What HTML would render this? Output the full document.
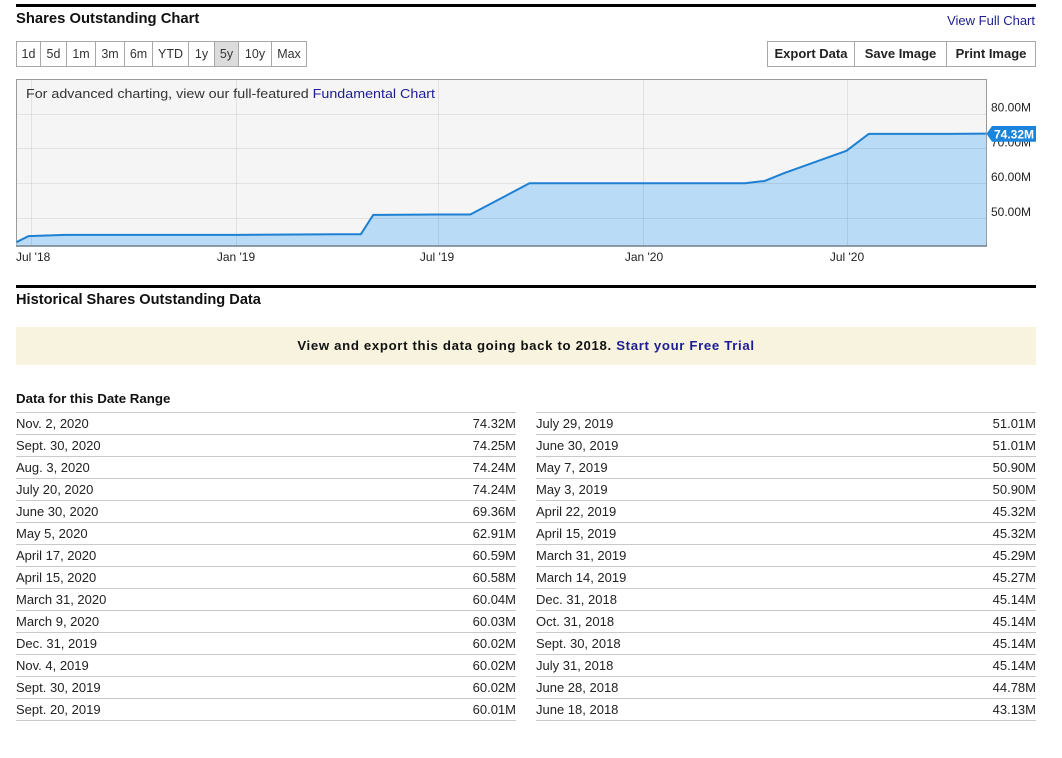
<!DOCTYPE html>
<html>
<head>
<meta charset="utf-8">
<style>
  html,body{margin:0;padding:0;background:#fff;}
  body{width:1062px;height:758px;position:relative;overflow:hidden;font-family:"Liberation Sans",Arial,sans-serif;color:#222;}
  .abs{position:absolute;}
  .rule{position:absolute;left:16px;width:1020px;height:3px;background:#000;}
  .h1{position:absolute;left:16px;font-weight:bold;font-size:14.8px;color:#111;white-space:nowrap;}
  .btns{position:absolute;top:41px;height:26px;display:flex;}
  .btns div{box-sizing:border-box;height:26px;line-height:24px;border:1px solid #a8a8a8;border-left:none;text-align:center;font-size:12.5px;color:#333;background:#fff;}
  .btns div:first-child{border-left:1px solid #a8a8a8;}
  .rb div{font-weight:bold;font-size:13px;color:#222;}
  .link{color:#1c1c94;}
  .row{position:absolute;height:22px;box-sizing:border-box;border-top:1px solid #c9c9c9;font-size:13px;line-height:21px;color:#222;white-space:nowrap;}
  .row span.v{position:absolute;right:0;top:0;}
</style>
</head>
<body>
<div class="rule" style="top:4px;"></div>
<div class="h1" style="top:11px;">Shares Outstanding Chart</div>
<div class="abs link" style="right:27px;top:13px;font-size:13px;">View Full Chart</div>

<div class="btns" style="left:16px;">
  <div style="width:25px;">1d</div>
  <div style="width:26px;">5d</div>
  <div style="width:29px;">1m</div>
  <div style="width:29px;">3m</div>
  <div style="width:28px;">6m</div>
  <div style="width:36px;">YTD</div>
  <div style="width:26px;">1y</div>
  <div style="width:24px;background:#dcdcdc;">5y</div>
  <div style="width:33px;">10y</div>
  <div style="width:35px;">Max</div>
</div>
<div class="btns rb" style="left:767px;">
  <div style="width:88px;">Export Data</div>
  <div style="width:92px;">Save Image</div>
  <div style="width:89px;">Print Image</div>
</div>

<svg class="abs" style="left:0;top:0;" width="1062" height="280" xmlns="http://www.w3.org/2000/svg">
  <rect x="16.5" y="79.5" width="970" height="166.5" fill="#f5f5f5" stroke="#9a9a9a" stroke-width="1"/>
  <polygon fill="#b9dbf5" points="16.5,241.8 17.2,241.8 28.4,236.1 65.2,234.9 235.9,234.9 317.4,234.4 336.4,234.3 353.1,234.2 360.9,234.2 373.2,214.9 377.7,214.9 437.9,214.5 470.3,214.5 529.4,183.3 540.6,183.2 579.7,183.2 643.3,183.2 720.3,183.2 744.8,183.2 761.6,181.3 763.8,181.3 783.9,173.2 846.4,150.8 868.7,133.9 884.3,133.9 949.1,133.9 986,133.6 986,246 16.5,246"/>
  <g stroke="rgba(0,0,0,0.075)" stroke-width="1">
    <line x1="17" y1="114.5" x2="986" y2="114.5"/>
    <line x1="17" y1="148.5" x2="986" y2="148.5"/>
    <line x1="17" y1="183.5" x2="986" y2="183.5"/>
    <line x1="17" y1="218.5" x2="986" y2="218.5"/>
    <line x1="31.5" y1="80" x2="31.5" y2="246"/>
    <line x1="236.5" y1="80" x2="236.5" y2="246"/>
    <line x1="438.5" y1="80" x2="438.5" y2="246"/>
    <line x1="643.5" y1="80" x2="643.5" y2="246"/>
    <line x1="847.5" y1="80" x2="847.5" y2="246"/>
  </g>
  <polyline fill="none" stroke="#1e80d2" stroke-width="2" stroke-linejoin="round" points="16.5,241.8 17.2,241.8 28.4,236.1 65.2,234.9 235.9,234.9 317.4,234.4 336.4,234.3 353.1,234.2 360.9,234.2 373.2,214.9 377.7,214.9 437.9,214.5 470.3,214.5 529.4,183.3 540.6,183.2 579.7,183.2 643.3,183.2 720.3,183.2 744.8,183.2 761.6,181.3 763.8,181.3 783.9,173.2 846.4,150.8 868.7,133.9 884.3,133.9 949.1,133.9 986,133.6"/>
  <line x1="16" y1="246" x2="987" y2="246" stroke="#6f7f8e" stroke-width="1.5"/>
  <text x="26" y="98" font-family="Liberation Sans, Arial, sans-serif" font-size="13" fill="#333" textLength="409" lengthAdjust="spacingAndGlyphs">For advanced charting, view our full-featured <tspan fill="#1c1c94">Fundamental Chart</tspan></text>
  <g font-family="Liberation Sans, Arial, sans-serif" font-size="12" fill="#222">
    <text x="991" y="111.5">80.00M</text>
    <text x="991" y="146.5">70.00M</text>
    <text x="991" y="181">60.00M</text>
    <text x="991" y="216">50.00M</text>
    <text x="16" y="261">Jul '18</text>
    <text x="236" y="261" text-anchor="middle">Jan '19</text>
    <text x="437" y="261" text-anchor="middle">Jul '19</text>
    <text x="644" y="261" text-anchor="middle">Jan '20</text>
    <text x="847" y="261" text-anchor="middle">Jul '20</text>
  </g>
  <polygon fill="#1a85dd" points="986.5,133.8 992,126 1036,126 1036,141.7 992,141.7"/>
  <text x="1014" y="138.5" text-anchor="middle" font-family="Liberation Sans, Arial, sans-serif" font-size="12" font-weight="bold" fill="#fff">74.32M</text>
</svg>

<div class="rule" style="top:285px;"></div>
<div class="h1" style="top:292px;font-size:14.6px;">Historical Shares Outstanding Data</div>

<div class="abs" style="left:16px;top:327px;width:1020px;height:38px;background:#f7f3de;text-align:center;line-height:38px;font-size:13.2px;letter-spacing:0.66px;font-weight:bold;color:#111;white-space:nowrap;">View and export this data going back to 2018. <span class="link">Start your Free Trial</span></div>

<div class="abs" style="left:16px;top:391px;font-size:13.3px;font-weight:bold;color:#111;white-space:nowrap;">Data for this Date Range</div>

<div class="row" style="left:16px;width:500px;top:412px;">Nov. 2, 2020<span class="v">74.32M</span></div>
<div class="row" style="left:16px;width:500px;top:434px;">Sept. 30, 2020<span class="v">74.25M</span></div>
<div class="row" style="left:16px;width:500px;top:456px;">Aug. 3, 2020<span class="v">74.24M</span></div>
<div class="row" style="left:16px;width:500px;top:478px;">July 20, 2020<span class="v">74.24M</span></div>
<div class="row" style="left:16px;width:500px;top:500px;">June 30, 2020<span class="v">69.36M</span></div>
<div class="row" style="left:16px;width:500px;top:522px;">May 5, 2020<span class="v">62.91M</span></div>
<div class="row" style="left:16px;width:500px;top:544px;">April 17, 2020<span class="v">60.59M</span></div>
<div class="row" style="left:16px;width:500px;top:566px;">April 15, 2020<span class="v">60.58M</span></div>
<div class="row" style="left:16px;width:500px;top:588px;">March 31, 2020<span class="v">60.04M</span></div>
<div class="row" style="left:16px;width:500px;top:610px;">March 9, 2020<span class="v">60.03M</span></div>
<div class="row" style="left:16px;width:500px;top:632px;">Dec. 31, 2019<span class="v">60.02M</span></div>
<div class="row" style="left:16px;width:500px;top:654px;">Nov. 4, 2019<span class="v">60.02M</span></div>
<div class="row" style="left:16px;width:500px;top:676px;">Sept. 30, 2019<span class="v">60.02M</span></div>
<div class="row" style="left:16px;width:500px;top:698px;">Sept. 20, 2019<span class="v">60.01M</span></div>
<div class="row" style="left:16px;width:500px;top:720px;height:1px;"></div>

<div class="row" style="left:536px;width:500px;top:412px;">July 29, 2019<span class="v">51.01M</span></div>
<div class="row" style="left:536px;width:500px;top:434px;">June 30, 2019<span class="v">51.01M</span></div>
<div class="row" style="left:536px;width:500px;top:456px;">May 7, 2019<span class="v">50.90M</span></div>
<div class="row" style="left:536px;width:500px;top:478px;">May 3, 2019<span class="v">50.90M</span></div>
<div class="row" style="left:536px;width:500px;top:500px;">April 22, 2019<span class="v">45.32M</span></div>
<div class="row" style="left:536px;width:500px;top:522px;">April 15, 2019<span class="v">45.32M</span></div>
<div class="row" style="left:536px;width:500px;top:544px;">March 31, 2019<span class="v">45.29M</span></div>
<div class="row" style="left:536px;width:500px;top:566px;">March 14, 2019<span class="v">45.27M</span></div>
<div class="row" style="left:536px;width:500px;top:588px;">Dec. 31, 2018<span class="v">45.14M</span></div>
<div class="row" style="left:536px;width:500px;top:610px;">Oct. 31, 2018<span class="v">45.14M</span></div>
<div class="row" style="left:536px;width:500px;top:632px;">Sept. 30, 2018<span class="v">45.14M</span></div>
<div class="row" style="left:536px;width:500px;top:654px;">July 31, 2018<span class="v">45.14M</span></div>
<div class="row" style="left:536px;width:500px;top:676px;">June 28, 2018<span class="v">44.78M</span></div>
<div class="row" style="left:536px;width:500px;top:698px;">June 18, 2018<span class="v">43.13M</span></div>
<div class="row" style="left:536px;width:500px;top:720px;height:1px;"></div>
</body>
</html>
